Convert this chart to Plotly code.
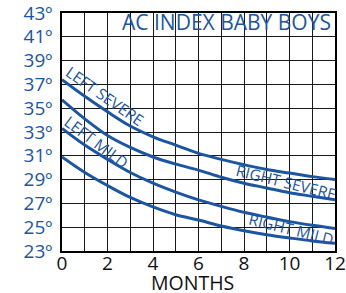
import plotly.graph_objects as go

months = list(range(13))
left_severe = [37.4, 36.0, 34.7, 33.5, 32.6, 31.9, 31.2, 30.7, 30.25, 29.85, 29.55, 29.25, 29.0]
right_severe = [35.7, 34.1, 32.7, 31.7, 30.9, 30.3, 29.8, 29.2, 28.7, 28.3, 27.9, 27.6, 27.3]
left_mild = [33.3, 31.9, 30.7, 29.6, 28.7, 27.95, 27.3, 26.75, 26.25, 25.85, 25.47, 25.16, 24.9]
right_mild = [30.9, 29.6, 28.5, 27.5, 26.7, 26.05, 25.6, 25.1, 24.7, 24.37, 24.1, 23.85, 23.65]

x_ticks = list(range(13))
x_labels = [str(v) if v % 2 == 0 else "" for v in x_ticks]
y_ticks = list(range(23, 44, 2))
y_labels = [f"{v}º" for v in y_ticks]

BLUE = "#1b55a3"
FONT = "Open Sans"

fig = go.Figure()
for s in [left_severe, right_severe, left_mild, right_mild]:
    fig.add_trace(go.Scatter(x=months, y=s, mode="lines",
                             line=dict(color=BLUE, width=3, shape="spline"),
                             showlegend=False, hoverinfo="skip"))

fig.update_layout(
    width=346, height=293,
    margin=dict(l=62, r=11, t=13, b=42, autoexpand=False),
    paper_bgcolor="white", plot_bgcolor="white",
    font=dict(family=FONT),
    xaxis=dict(range=[0, 12], tickvals=x_ticks, ticktext=x_labels, automargin=False,
               showgrid=True, gridcolor="#1a1a1a", gridwidth=1,
               showline=True, linecolor="black", linewidth=1.5, mirror=True,
               zeroline=False, ticks="", ticklabeloverflow="allow", ticklabelstandoff=-6,
               tickfont=dict(family=FONT, size=19, color="#111")),
    yaxis=dict(range=[23, 43], tickvals=y_ticks, ticktext=y_labels, automargin=False,
               showgrid=True, gridcolor="#1a1a1a", gridwidth=1,
               showline=True, linecolor="black", linewidth=1.5, mirror=True,
               zeroline=False, ticks="", ticklabelstandoff=4, ticklabeloverflow="allow",
               tickfont=dict(family=FONT, size=19, color=BLUE)),
)

annos = [
    dict(text="AC INDEX BABY BOYS", x=11.9, y=42.25, xanchor="right", yanchor="middle",
         font=dict(size=21, color=BLUE), textangle=0),
    dict(text="LEFT SEVERE", x=1.9, y=36.05, textangle=35, font=dict(size=15.5, color=BLUE)),
    dict(text="LEFT MILD", x=1.52, y=32.15, textangle=37, font=dict(size=15.5, color=BLUE)),
    dict(text="RIGHT SEVERE", x=9.84, y=28.8, textangle=14, font=dict(size=15.5, color=BLUE)),
    dict(text="RIGHT MILD", x=10.1, y=24.85, textangle=14, font=dict(size=15.5, color=BLUE)),
]
for a in annos:
    fig.add_annotation(xref="x", yref="y", showarrow=False, font_family=FONT, **a)

fig.add_annotation(text="MONTHS", xref="x", yref="paper", x=5.73, y=0, yshift=-31,
                   xanchor="center", yanchor="middle", showarrow=False,
                   font=dict(family=FONT, size=19.5, color="#111"))

fig.write_html("out.html", config={"displayModeBar": False},
               post_script="document.body.style.margin='0';")
